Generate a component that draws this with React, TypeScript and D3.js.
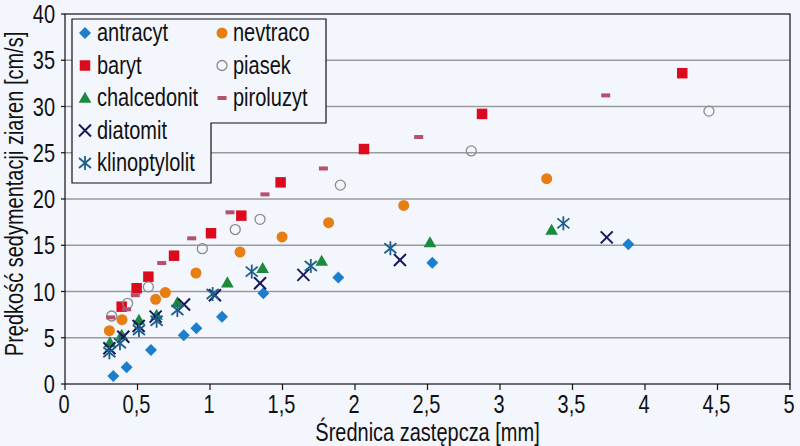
import React from 'react';
import * as d3 from 'd3';

// values: [diameter mm, velocity cm/s]
const antracyt: [number, number][] = [
  [0.333, 0.86], [0.425, 1.8], [0.593, 3.68], [0.819, 5.26], [0.906, 6.02],
  [1.083, 7.28], [1.368, 9.8], [1.885, 11.5], [2.533, 13.1], [3.885, 15.1],
];
const baryt: [number, number][] = [
  [0.391, 8.36], [0.494, 10.35], [0.575, 11.6], [0.752, 13.87], [1.007, 16.3],
  [1.216, 18.2], [1.487, 21.8], [2.062, 25.4], [2.876, 29.2], [4.257, 33.6],
];
const chalcedonit: [number, number][] = [
  [0.31, 4.47], [0.391, 5.3], [0.51, 6.9], [0.632, 7.46], [0.775, 8.8],
  [1.12, 10.95], [1.363, 12.5], [1.77, 13.3], [2.517, 15.3], [3.356, 16.65],
];
const diatomit: [number, number][] = [
  [0.306, 3.86], [0.402, 5.1], [0.508, 6.27], [0.625, 7.28], [0.821, 8.6],
  [1.034, 9.6], [1.345, 10.9], [1.644, 11.8], [2.31, 13.4], [3.736, 15.85],
];
const klinoptylolit: [number, number][] = [
  [0.306, 3.43], [0.379, 4.4], [0.51, 5.84], [0.632, 6.84], [0.775, 8.0],
  [1.018, 9.73], [1.288, 12.15], [1.695, 12.76], [2.244, 14.67], [3.437, 17.37],
];
const nevtraco: [number, number][] = [
  [0.306, 5.77], [0.393, 6.95], [0.625, 9.15], [0.692, 9.88], [0.903, 12.0],
  [1.207, 14.27], [1.497, 15.9], [1.818, 17.44], [2.336, 19.3], [3.322, 22.2],
];
const piasek: [number, number][] = [
  [0.322, 7.35], [0.432, 8.72], [0.575, 10.5], [0.947, 14.63], [1.174, 16.7],
  [1.345, 17.8], [1.899, 21.5], [2.802, 25.2], [4.441, 29.5],
];
const piroluzyt: [number, number][] = [
  [0.315, 7.2], [0.425, 8.07], [0.485, 9.6], [0.667, 13.08], [0.874, 15.75],
  [1.138, 18.56], [1.379, 20.5], [1.782, 23.3], [2.439, 26.7], [3.729, 31.2],
];

const xTicks = [0, 0.5, 1, 1.5, 2, 2.5, 3, 3.5, 4, 4.5, 5];
const yTicks = [0, 5, 10, 15, 20, 25, 30, 35, 40];

type Kind = 'diamond' | 'square' | 'triangle' | 'x' | 'star' | 'dot' | 'ring' | 'dash';

const series: { name: string; kind: Kind; color: string; data: [number, number][] }[] = [
  { name: 'antracyt', kind: 'diamond', color: '#1b7fcc', data: antracyt },
  { name: 'baryt', kind: 'square', color: '#dc0a1e', data: baryt },
  { name: 'chalcedonit', kind: 'triangle', color: '#1b8a3c', data: chalcedonit },
  { name: 'diatomit', kind: 'x', color: '#15195c', data: diatomit },
  { name: 'klinoptylolit', kind: 'star', color: '#1d5e8a', data: klinoptylolit },
  { name: 'nevtraco', kind: 'dot', color: '#e77e12', data: nevtraco },
  { name: 'piasek', kind: 'ring', color: '#8a8a8a', data: piasek },
  { name: 'piroluzyt', kind: 'dash', color: '#b5516c', data: piroluzyt },
];

const W = 800;
const H = 446;
const BG = '#f3f6fc';
const FONT = '"Liberation Sans", Arial, sans-serif';
const FS = 25;
// the reference uses a condensed face; squeeze a regular one horizontally
const SQUEEZE = 0.8;

const x = d3.scaleLinear().domain([0, 5]).range([65, 790]);
const y = d3.scaleLinear().domain([0, 40]).range([384, 14]);

const squarePath = d3.symbol(d3.symbolSquare, 110)()!;
const diamondPath = d3.symbol(d3.symbolSquare, 72)()!;
const trianglePath = d3.symbol(d3.symbolTriangle, 70)()!;

function T({ x: tx, y: ty, anchor = 'start', rotate = 0, children }: {
  x: number; y: number; anchor?: string; rotate?: number; children: React.ReactNode;
}) {
  return (
    <text
      transform={`translate(${tx},${ty}) rotate(${rotate}) scale(${SQUEEZE},1)`}
      textAnchor={anchor}
      fontSize={FS}
      fill="#111"
    >
      {children}
    </text>
  );
}

function Marker({ kind, color, cx, cy }: { kind: Kind; color: string; cx: number; cy: number }) {
  const t = `translate(${cx},${cy})`;
  switch (kind) {
    case 'diamond':
      return <path d={diamondPath} transform={`${t} rotate(45)`} fill={color} />;
    case 'square':
      return <path d={squarePath} transform={t} fill={color} />;
    case 'triangle':
      return <path d={trianglePath} transform={`${t} translate(0,1)`} fill={color} />;
    case 'dot':
      return <circle cx={cx} cy={cy} r={5.5} fill={color} />;
    case 'ring':
      return <circle cx={cx} cy={cy} r={5} fill="none" stroke={color} strokeWidth={1.3} />;
    case 'dash':
      return <rect x={cx - 4.5} y={cy - 2} width={9} height={4} fill={color} />;
    case 'x':
      return (
        <g transform={t} stroke={color} strokeWidth={2}>
          <line x1={-6} y1={-6} x2={6} y2={6} />
          <line x1={-6} y1={6} x2={6} y2={-6} />
        </g>
      );
    case 'star':
      return (
        <g transform={t} stroke={color} strokeWidth={1.8}>
          <line x1={0} y1={-7} x2={0} y2={7} />
          <line x1={-6} y1={-5} x2={6} y2={5} />
          <line x1={-6} y1={5} x2={6} y2={-5} />
        </g>
      );
  }
}

export default function App() {
  const [x0, x1] = x.range();
  const [y0, y1] = y.range();
  const legCol1 = series.slice(0, 5);
  const legCol2 = series.slice(5);
  const rowY = (i: number) => 33 + i * 32.5;
  return (
    <svg
      width={W}
      height={H}
      style={{ position: 'absolute', left: 0, top: 0, background: BG }}
      fontFamily={FONT}
    >
      <rect x={0} y={0} width={W} height={H} fill={BG} />
      {/* grid */}
      {yTicks.slice(1, -1).map((v) => (
        <line key={v} x1={x0} x2={x1} y1={y(v)} y2={y(v)} stroke="#9a9a9a" strokeWidth={1.5} />
      ))}
      {/* frame */}
      <rect x={x0} y={y1} width={x1 - x0} height={y0 - y1} fill="none" stroke="#111" strokeWidth={1.2} />
      {/* x axis */}
      {xTicks.map((v) => (
        <g key={v}>
          <line x1={x(v)} x2={x(v)} y1={y0} y2={y0 + 6} stroke="#111" strokeWidth={1.2} />
          <T x={x(v) - 1} y={y0 + 29} anchor="middle">
            {String(v).replace('.', ',')}
          </T>
        </g>
      ))}
      {/* y axis */}
      {yTicks.map((v) => (
        <g key={v}>
          <line x1={x0 - 4} x2={x0} y1={y(v)} y2={y(v)} stroke="#111" strokeWidth={1.2} />
          <T x={x0 - 10} y={y(v) + 9} anchor="end">
            {v}
          </T>
        </g>
      ))}
      <T x={(x0 + x1) / 2} y={441} anchor="middle">
        Średnica zastępcza [mm]
      </T>
      <T x={23} y={194} anchor="middle" rotate={-90}>
        Prędkość sedymentacji ziaren [cm/s]
      </T>
      {/* points */}
      {series.map((s) => (
        <g key={s.name}>
          {s.data.map(([dx, dy], i) => (
            <Marker key={i} kind={s.kind} color={s.color} cx={x(dx)} cy={y(dy)} />
          ))}
        </g>
      ))}
      {/* legend */}
      <path d="M72,19 H326 V123 H211 V183 H72 Z" fill={BG} stroke="#111" strokeWidth={1.2} />
      {legCol1.map((s, i) => (
        <g key={s.name}>
          <Marker kind={s.kind} color={s.color} cx={85} cy={rowY(i)} />
          <T x={97} y={rowY(i) + 8}>{s.name}</T>
        </g>
      ))}
      {legCol2.map((s, i) => (
        <g key={s.name}>
          <Marker kind={s.kind} color={s.color} cx={222} cy={rowY(i)} />
          <T x={233} y={rowY(i) + 8}>{s.name}</T>
        </g>
      ))}
    </svg>
  );
}
